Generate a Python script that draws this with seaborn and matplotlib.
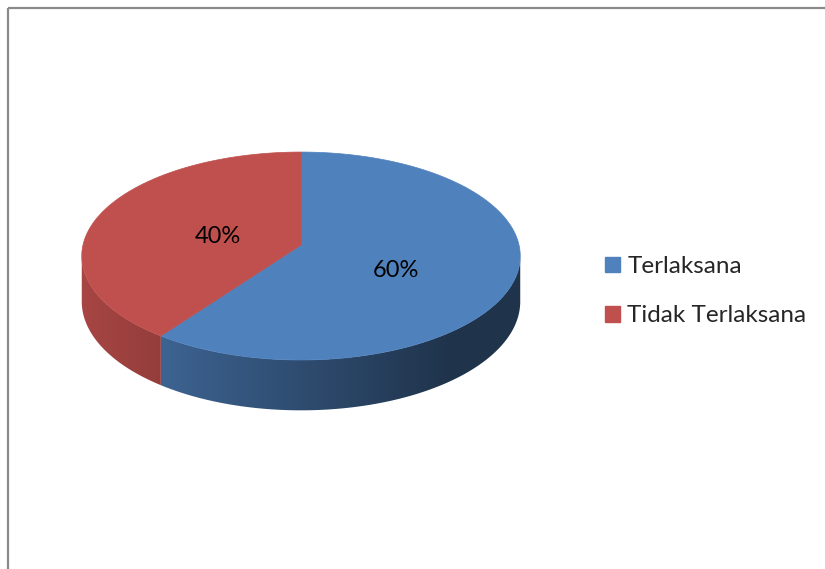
import numpy as np
import matplotlib
matplotlib.use("Agg")
import matplotlib.pyplot as plt
import seaborn as sns
from matplotlib.patches import Polygon, Rectangle, Patch
from matplotlib.colors import to_rgb

# Share of activities carried out
categories = ["Terlaksana", "Tidak Terlaksana"]
percent = [60, 40]
palette = ["#4F81BD", "#C0504D"]

sns.set_theme(style="white")
plt.rcParams["font.family"] = ["Lato", "DejaVu Sans"]

W, H = 825, 569
fig = plt.figure(figsize=(W / 100, H / 100), dpi=100)
ax = fig.add_axes([0, 0, 1, 1])
ax.set_xlim(0, W)
ax.set_ylim(H, 0)
ax.axis("off")

# chart frame (runs past the right and bottom edges)
ax.add_patch(Rectangle((8, 8), W + 20, H + 20, fill=False,
                       edgecolor="#8a8a8a", linewidth=1.6, zorder=0))

# tilted disc seen in perspective: centre, half-width, half-depth,
# perspective strength and thickness of the slab
cx, cy, A, B, K, D = 301, 245, 218, 102.8, 0.106, 45


def project(theta_deg, r=1.0, down=0.0):
    t = np.radians(theta_deg)
    u, v = r * np.cos(t), r * np.sin(t)
    w = 1 + K * v
    return cx + A * u / w, cy - B * v / w + down / w


def shade(rgb, x):
    f = np.clip(0.87 - 0.00128 * (x - 82), 0.40, 1.0)
    return np.array(rgb) * f


# slices run clockwise from 12 o'clock
fracs = np.array(percent, dtype=float) / sum(percent)
starts, ends = [], []
ang = 90.0
for fr in fracs:
    starts.append(ang)
    ang -= 360 * fr
    ends.append(ang)

# visible part of the rim: between the leftmost and rightmost points
grid = np.linspace(90, 450, 7201)
xs = np.array([project(t)[0] for t in grid])
t_left = grid[np.argmin(xs)]
t_right = grid[np.argmax(xs)]
if t_right < t_left:
    t_right += 360

# side wall with a left-to-right shading ramp, clipped to each slice
for s, e, col in zip(starts, ends, palette):
    lo, hi = min(s, e), max(s, e)
    rgb = to_rgb(col)
    for shift in (-360, 0, 360):
        l = max(lo + shift, t_left)
        h = min(hi + shift, t_right)
        if h <= l:
            continue
        ts = np.linspace(l, h, 400)
        top = [project(t) for t in ts]
        bot = [project(t, down=D) for t in ts[::-1]]
        poly = Polygon(top + bot, closed=True, facecolor="none",
                       edgecolor="none")
        ax.add_patch(poly)
        px = np.array([p[0] for p in top + bot])
        py = np.array([p[1] for p in top + bot])
        x0, x1 = px.min() - 2, px.max() + 2
        cols = np.linspace(x0, x1, 300)
        img = np.array([[shade(rgb, x) for x in cols]])
        im = ax.imshow(img, extent=(x0, x1, py.max() + 2, py.min() - 2),
                       aspect="auto", interpolation="bilinear", zorder=2)
        im.set_clip_path(poly)

ax.set_xlim(0, W)
ax.set_ylim(H, 0)

# top faces
for s, e, col in zip(starts, ends, palette):
    ts = np.linspace(s, e, 400)
    pts = [(cx, cy)] + [project(t) for t in ts]
    ax.add_patch(Polygon(pts, closed=True, facecolor=col,
                         edgecolor=col, linewidth=0.5, zorder=3))

# value labels
for s, e, v in zip(starts, ends, percent):
    mid = np.radians((s + e) / 2)
    r = 0.43
    u, vv = r * np.cos(mid), r * np.sin(mid)
    w = 1 + K * vv
    x = cx + A * u / w + 5
    y = cy + 8 - 1.26 * B * vv / w
    ax.text(x, y, f"{v}%", ha="center", va="center", fontsize=17,
            color="black", zorder=4)

handles = [Patch(facecolor=c, edgecolor=c) for c in palette]
ax.legend(handles, categories, loc="upper left",
          bbox_to_anchor=(605 / W, 1 - 256 / H), frameon=False,
          fontsize=17.5, handlelength=0.62, handleheight=0.62,
          handletextpad=0.3, labelspacing=1.17, borderpad=0,
          borderaxespad=0)

fig.savefig("out.png", dpi=100)
